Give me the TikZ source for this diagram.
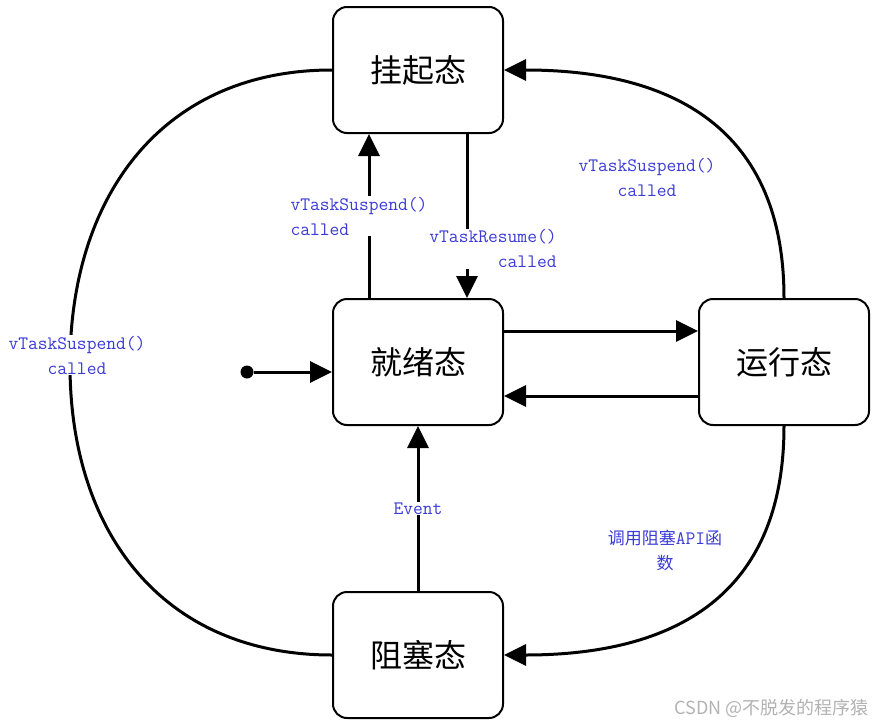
\documentclass[tikz,border=0pt]{standalone}
\usepackage{fontspec}
\usetikzlibrary{arrows.meta}
\newfontfamily\cjk{Noto Sans CJK SC}
\definecolor{lblblue}{RGB}{58,58,215}

\begin{document}
\begin{tikzpicture}[x=1pt,y=-1pt,
    state/.style={draw=black,line width=2pt,rounded corners=14pt,minimum width=170pt,minimum height=126pt,font=\cjk\fontsize{32}{36}\selectfont},
    lbl/.style={text=lblblue,fill=white,inner sep=1pt,font=\ttfamily\fontsize{19}{25}\selectfont},
    trans/.style={draw=black,line width=3pt,-{Triangle[length=22pt,width=21pt]}},
    edge/.style={draw=black,line width=3pt}]
    \useasboundingbox (0,0) rectangle (879,726);
    \node[state] (sus) at (418,70) {挂起态};
    \node[state] (rdy) at (418,362) {就绪态};
    \node[state] (run) at (784,362) {运行态};
    \node[state] (blk) at (418,655) {阻塞态};
    \node[circle,fill=black,inner sep=0pt,minimum size=13pt] (init) at (247,372) {};
    \coordinate (far) at (70,365);
    \draw [trans] (init) -- (init -| rdy.west);
    \draw [trans] ([xshift=-49pt]rdy.north) -- ([xshift=-49pt]sus.south)
        node [lbl,pos=0.5,xshift=-10pt,align=left] {vTaskSuspend()\\called};
    \draw [trans] ([xshift=49pt]sus.south) -- ([xshift=49pt]rdy.north)
        node [lbl,pos=0.7,xshift=26pt,align=right] {vTaskResume()\\called};
    \draw [trans] ([yshift=31pt]rdy.east) -- ([yshift=31pt]run.west);
    \draw [trans] ([yshift=-34pt]run.west) -- ([yshift=-34pt]rdy.east);
    \draw [trans] (blk.north) -- (rdy.south)
        node [lbl,pos=0.5] {Event};
    \draw [trans] (run.north) to[out=90,in=0,looseness=1.2] (sus.east);
    \node [lbl,fill=none,align=center] (lrun) at (647,177) {vTaskSuspend()\\called};
    \draw [trans] (run.south) to[out=-90,in=0,looseness=1.2] (blk.east);
    \node [lbl,fill=none,align=center] (lblk) at (665,550)
        {{\cjk\fontsize{17}{25}\selectfont 调用阻塞}API{\cjk\fontsize{17}{25}\selectfont 函}\\{\cjk\fontsize{17}{25}\selectfont 数}};
    \draw [edge] (sus.west) to[out=180,in=90,looseness=1.1] (far) to[out=-90,in=180,looseness=1.1] (blk.west);
    \node [lbl,align=center] (lfar) at (77,355) {vTaskSuspend()\\called};
    \node [anchor=east,text=gray!60,font=\cjk\fontsize{18}{20}\selectfont] (mark) at (872,708) {CSDN @不脱发的程序猿};
\end{tikzpicture}
\end{document}
